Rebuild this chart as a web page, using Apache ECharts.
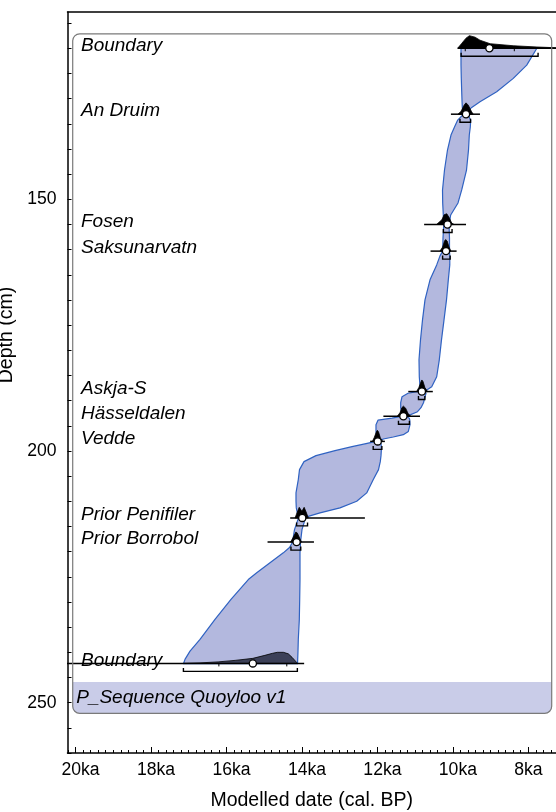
<!DOCTYPE html>
<html>
<head>
<meta charset="utf-8">
<script src="https://cdn.jsdelivr.net/npm/echarts@6/dist/echarts.min.js"></script>
<style>
  html, body { margin: 0; padding: 0; background: #fff; }
  #chart { width: 556px; height: 812px; }
</style>
</head>
<body>
<div id="chart"></div>
<script>
// Quoyloo P_Sequence age–depth model. Ages in ka cal. BP, depths in cm.

// Dated horizons (top to bottom)
const dateNames   = ['Boundary', 'An Druim', 'Fosen', 'Saksunarvatn', 'Askja-S', 'Hässeldalen', 'Vedde', 'Prior Penifiler', 'Prior Borrobol', 'Boundary'];
const dateDepths  = [120.0, 133.1, 155.0, 160.3, 188.2, 193.1, 198.1, 213.3, 218.1, 242.2];
const dateMeans   = [9.03, 9.65, 10.14, 10.18, 10.82, 11.31, 11.99, 13.99, 14.14, 15.30];
// 95.4% ranges (older, younger)
const range95Old   = [9.78, 9.81, 10.25, 10.27, 10.91, 11.44, 12.11, 14.14, 14.29, 17.14];
const range95Young = [7.74, 9.53, 10.02, 10.07, 10.74, 11.15, 11.88, 13.85, 14.03, 14.12];
// 68.2% ranges, marked on the boundary baselines
const range68Old   = [9.67, null, null, null, null, null, null, null, null, 16.20];
const range68Young = [8.37, null, null, null, null, null, null, null, null, 14.40];
// extent of each distribution's baseline
const lineOld   = [9.87, 10.05, 10.76, 10.59, 11.18, 11.84, 12.19, 14.31, 14.91, 20.30];
const lineYoung = [7.00, 9.28, 9.65, 9.90, 10.53, 10.87, 11.80, 12.33, 13.68, 13.94];

// Posterior probability distributions: [age ka, relative height]
const distBoundaryTop = [[9.87, 0], [9.76, 1.0], [9.65, 2.0], [9.56, 2.5], [9.41, 2.2], [9.28, 1.6], [9.01, 0.9], [8.40, 0.5], [7.77, 0.25], [7.27, 0.1], [7.00, 0.05], [7.00, 0]];
const distAnDruim     = [[9.86, 0], [9.78, 0.6], [9.70, 1.8], [9.65, 2.25], [9.59, 1.8], [9.51, 0.6], [9.46, 0]];
const distFosen       = [[10.43, 0], [10.29, 0.93], [10.23, 1.92], [10.16, 2.12], [10.09, 1.27], [10.03, 0.28], [9.97, 0]];
const distSaksunarvatn= [[10.34, 0], [10.27, 0.8], [10.22, 2.0], [10.19, 2.3], [10.15, 2.0], [10.10, 0.8], [10.05, 0]];
const distAskja       = [[10.96, 0], [10.90, 0.8], [10.84, 2.0], [10.82, 2.3], [10.79, 2.0], [10.74, 0.8], [10.67, 0]];
const distHasseldalen = [[11.47, 0], [11.40, 0.7], [11.35, 1.7], [11.31, 2.0], [11.25, 1.6], [11.19, 0.6], [11.12, 0]];
const distVedde       = [[12.13, 0], [12.08, 0.8], [12.02, 2.0], [12.00, 2.2], [11.97, 1.9], [11.92, 0.7], [11.86, 0]];
const distPenifiler   = [[14.18, 0], [14.13, 1.0], [14.07, 2.1], [14.00, 1.3], [13.94, 2.1], [13.89, 1.2], [13.83, 0]];
const distBorrobol    = [[14.30, 0], [14.24, 0.8], [14.18, 1.7], [14.16, 2.0], [14.12, 1.8], [14.06, 0.8], [14.01, 0]];
const distBoundaryBot = [[17.14, 0], [16.70, 0.1], [16.22, 0.3], [15.77, 0.6], [15.30, 1.0], [14.98, 1.6], [14.78, 2.0], [14.65, 2.2], [14.49, 2.2], [14.36, 1.9], [14.26, 1.2], [14.14, 0.2], [14.12, 0]];
const distributions = [distBoundaryTop, distAnDruim, distFosen, distSaksunarvatn, distAskja, distHasseldalen, distVedde, distPenifiler, distBorrobol, distBoundaryBot];

// 95% envelope of the deposition model
const envDepth = [120.04, 123.35, 125.99, 128.65, 130.63, 131.75, 132.62, 133.08, 134.27, 135.65, 137.24, 140.22, 144.19, 148.15, 150.73, 153.12, 155.04, 157.68, 160.26, 161.25, 163.04, 166.01, 169.98, 173.95, 177.92, 181.89, 185.26, 187.24, 188.17, 188.53, 189.23, 190.42, 191.41, 192.20, 193.13, 193.49, 193.89, 194.78, 196.11, 196.77, 197.22, 197.62, 198.09, 198.55, 199.15, 199.94, 200.93, 202.12, 203.71, 205.69, 208.33, 210.00, 211.31, 212.30, 212.98, 213.29, 215.62, 218.13, 219.19, 220.24, 222.22, 224.21, 225.54, 229.50, 233.47, 237.44, 239.76, 241.41, 242.26];
const envOlder = [9.783, 9.783, 9.775, 9.764, 9.755, 9.748, 9.730, 9.717, 9.870, 9.955, 10.048, 10.141, 10.220, 10.273, 10.268, 10.252, 10.239, 10.260, 10.268, 10.339, 10.427, 10.604, 10.737, 10.803, 10.856, 10.896, 10.888, 10.869, 10.909, 11.187, 11.346, 11.381, 11.381, 11.360, 11.373, 11.611, 11.983, 12.036, 12.036, 12.027, 12.022, 12.017, 12.036, 12.301, 12.672, 13.122, 13.626, 13.944, 14.063, 14.095, 14.156, 14.156, 14.148, 14.121, 14.103, 14.090, 14.196, 14.249, 14.328, 14.492, 14.845, 15.197, 15.420, 15.879, 16.303, 16.700, 16.965, 17.098, 17.138];
const envYounger = [7.776, 8.041, 8.397, 8.837, 9.279, 9.499, 9.616, 9.610, 9.526, 9.536, 9.563, 9.584, 9.637, 9.764, 9.862, 10.056, 10.101, 10.088, 10.088, 10.080, 10.080, 10.119, 10.167, 10.233, 10.300, 10.358, 10.427, 10.559, 10.750, 10.710, 10.737, 10.777, 10.843, 10.936, 11.227, 11.153, 11.140, 11.134, 11.179, 11.312, 11.577, 11.842, 11.930, 11.903, 11.895, 11.895, 11.903, 11.922, 11.969, 12.107, 12.282, 12.547, 12.990, 13.520, 13.830, 13.904, 13.997, 14.037, 14.042, 14.050, 14.050, 14.050, 14.050, 14.058, 14.068, 14.095, 14.103, 14.111, 14.116];

// Axis ticks and labels
const depthTicks  = [];
for (let d = 115; d <= 260; d += 5) depthTicks.push(d);
const depthLabels = [150, 200, 250];
const ageMinorTicks = [];
for (let k = 37; k <= 101; k++) ageMinorTicks.push(+(k * 0.2).toFixed(1));
const ageLabels = [8, 10, 12, 14, 16, 18, 20];

const AGE_MIN = 7.265, AGE_MAX = 20.212;
const DEPTH_MIN = 112.8, DEPTH_MAX = 260;

// Outline of the P_Sequence group box, in axis units
const seqBox = { old: 20.074, young: 7.379, top: 117.14, bottom: 252.12, bandTop: 245.91 };

const FONT = "'Liberation Sans', Arial, sans-serif";
const BLUE_FILL = '#b3b8de';
const BLUE_LINE = '#2f62c2';

const chart = echarts.init(document.getElementById('chart'), null, { renderer: 'canvas' });

function single(renderItem, z) {
  return { type: 'custom', coordinateSystem: 'cartesian2d', xAxisIndex: 0, yAxisIndex: 0,
           data: [0], renderItem, silent: true, z, clip: true, animation: false };
}

// group box: shaded footer band
function renderBoxBand(params, api) {
  const tl = api.coord([seqBox.old, seqBox.bandTop]);
  const br = api.coord([seqBox.young, seqBox.bottom]);
  return {
    type: 'rect',
    shape: { x: tl[0], y: tl[1], width: br[0] - tl[0], height: br[1] - tl[1], r: [0, 0, 6, 6] },
    style: { fill: '#c9cce8' }
  };
}
// group box: rounded outline and its name
function renderBoxOutline(params, api) {
  const tl = api.coord([seqBox.old, seqBox.top]);
  const br = api.coord([seqBox.young, seqBox.bottom]);
  const band = api.coord([seqBox.old, seqBox.bandTop]);
  return {
    type: 'group',
    children: [
      { type: 'rect',
        shape: { x: tl[0], y: tl[1], width: br[0] - tl[0], height: br[1] - tl[1], r: 7 },
        style: { fill: 'none', stroke: '#7a7a7a', lineWidth: 1.2 } },
      { type: 'text',
        style: { x: tl[0] + 3.5, y: (band[1] + br[1]) / 2, text: 'P_Sequence Quoyloo v1',
                 font: 'italic 19px ' + FONT, fill: '#000', verticalAlign: 'middle', align: 'left' } }
    ]
  };
}

// shaded 95% envelope between the older and younger limits
function renderEnvelope(params, api) {
  const pts = [];
  for (let i = 0; i < envDepth.length; i++) pts.push(api.coord([envOlder[i], envDepth[i]]));
  for (let i = envDepth.length - 1; i >= 0; i--) pts.push(api.coord([envYounger[i], envDepth[i]]));
  return {
    type: 'polygon',
    shape: { points: pts },
    style: { fill: BLUE_FILL, stroke: BLUE_LINE, lineWidth: 1.2, lineJoin: 'round' }
  };
}

// each dated horizon: distribution, baseline, ranges and mean
function renderDates(params, api) {
  const children = [];
  const pxPerCm = Math.abs(api.coord([10, 200])[1] - api.coord([10, 150])[1]) / 50;
  for (let i = 0; i < dateNames.length; i++) {
    const d = dateDepths[i];
    const base = api.coord([dateMeans[i], d]);
    const y = base[1];
    const poly = distributions[i].map(p => {
      const c = api.coord([p[0], d]);
      return [c[0], y - p[1] * pxPerCm];
    });
    children.push({ type: 'polygon', shape: { points: poly },
      style: { fill: i === dateNames.length - 1 ? '#3c4058' : '#000', stroke: '#000', lineWidth: 0.8 } });
    const l0 = api.coord([lineOld[i], d])[0], l1 = api.coord([lineYoung[i], d])[0];
    children.push({ type: 'line', shape: { x1: l0, y1: y, x2: l1, y2: y }, style: { stroke: '#000', lineWidth: 1.5 } });
    if (range68Old[i] != null) {
      [range68Old[i], range68Young[i]].forEach(a => {
        const x = api.coord([a, d])[0];
        children.push({ type: 'line', shape: { x1: x, y1: y, x2: x, y2: y + 3 }, style: { stroke: '#000', lineWidth: 1 } });
      });
    }
    const b0 = api.coord([range95Old[i], d])[0], b1 = api.coord([range95Young[i], d])[0];
    const by = y + 8;
    children.push({ type: 'polyline', shape: { points: [[b0, by - 3.5], [b0, by], [b1, by], [b1, by - 3.5]] },
      style: { stroke: '#000', lineWidth: 1.4, fill: 'none' } });
    children.push({ type: 'circle', shape: { cx: base[0], cy: y, r: 3.6 }, style: { fill: '#fff', stroke: '#000', lineWidth: 1.3 } });
  }
  return { type: 'group', children };
}

// horizon names along the left of the box
function renderNames(params, api) {
  const gridLeft = api.coord([AGE_MAX, 150])[0];
  return {
    type: 'group',
    children: dateNames.map((n, i) => ({
      type: 'text',
      style: { x: gridLeft + 13.5, y: api.coord([10, dateDepths[i]])[1] - 3, text: n,
               font: 'italic 19px ' + FONT, fill: '#000', align: 'left', verticalAlign: 'middle' }
    }))
  };
}

const option = {
  animation: false,
  backgroundColor: '#fff',
  grid: { left: 67.5, top: 12, right: 0, bottom: 59, containLabel: false, outerBoundsMode: 'none' },
  xAxis: [
    { type: 'value', inverse: true, min: AGE_MIN, max: AGE_MAX, position: 'bottom',
      axisLine: { show: true, lineStyle: { color: '#000', width: 1.5 } },
      axisTick: { show: true, inside: true, length: 3, customValues: ageMinorTicks, lineStyle: { color: '#000', width: 1 } },
      axisLabel: { show: true, customValues: ageLabels, formatter: v => v + 'ka', align: 'left',
                   padding: [0, 0, 0, -14], margin: 8, color: '#000', fontSize: 17.6, fontFamily: FONT },
      splitLine: { show: false },
      name: 'Modelled date (cal. BP)', nameLocation: 'middle', nameGap: 38,
      nameTextStyle: { color: '#000', fontSize: 19.5, fontFamily: FONT } },
    { type: 'value', inverse: true, min: AGE_MIN, max: AGE_MAX, position: 'bottom',
      axisLine: { show: false },
      axisTick: { show: true, inside: true, length: 6, customValues: ageLabels, lineStyle: { color: '#000', width: 1 } },
      axisLabel: { show: false }, splitLine: { show: false } },
    { type: 'value', inverse: true, min: AGE_MIN, max: AGE_MAX, position: 'top',
      axisLine: { show: true, lineStyle: { color: '#000', width: 1.5 } },
      axisTick: { show: false }, axisLabel: { show: false }, splitLine: { show: false } }
  ],
  yAxis: {
    type: 'value', inverse: true, min: DEPTH_MIN, max: DEPTH_MAX,
    axisLine: { show: true, lineStyle: { color: '#000', width: 1.5 } },
    axisTick: { show: true, inside: true, length: 4, customValues: depthTicks, lineStyle: { color: '#000', width: 1 } },
    axisLabel: { show: true, customValues: depthLabels, margin: 11, color: '#000', fontSize: 17.6, fontFamily: FONT },
    splitLine: { show: false },
    name: 'Depth (cm)', nameLocation: 'middle', nameGap: 33.5, nameRotate: 90,
    nameTextStyle: { color: '#000', fontSize: 19.5, fontFamily: FONT, padding: [0, 0, 0, 95] }
  },
  series: [
    single(renderBoxBand, 1),
    single(renderEnvelope, 2),
    single(renderDates, 3),
    single(renderBoxOutline, 4),
    single(renderNames, 5)
  ]
};
chart.setOption(option);
</script>
</body>
</html>
